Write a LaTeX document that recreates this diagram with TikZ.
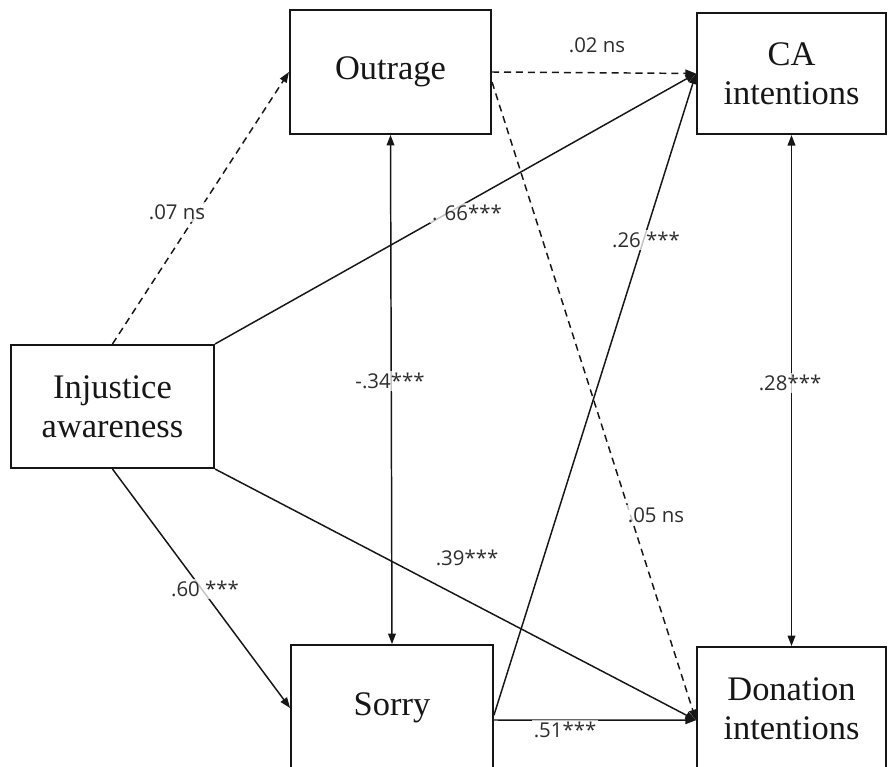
\documentclass[tikz,border=0pt]{standalone}
\usepackage{fontspec}
\setmainfont{Liberation Serif}
\newfontfamily\coeffont{Open Sans}
\usetikzlibrary{positioning,arrows.meta}
\definecolor{inkdark}{RGB}{22,22,22}
\definecolor{coefgray}{RGB}{45,45,45}

\tikzset{
  construct/.style={draw=inkdark,line width=1.3pt,fill=white,align=center,
    text=inkdark,inner sep=0pt,font=\fontsize{24.5}{28}\selectfont},
  path/.style={draw=inkdark,line width=1.05pt,-{Triangle[length=7.5pt,width=5.5pt]}},
  nspath/.style={path,dash pattern=on 5pt off 3.5pt},
  covpath/.style={draw=inkdark,line width=1.05pt,
    {Triangle[length=7.5pt,width=5.5pt]}-{Triangle[length=7.5pt,width=5.5pt]}},
  coef/.style={font=\coeffont\fontsize{14.5}{17}\selectfont,text=coefgray,
    fill=white,fill opacity=0.75,text opacity=1,inner sep=1.5pt}
}

\begin{document}
\begin{tikzpicture}[x=0.025cm,y=-0.025cm]
        \useasboundingbox (0,0) rectangle (888,767);
        \clip (0,0) rectangle (888,767);
        % constructs
        \node[construct,minimum width=5.03cm,minimum height=3.1cm]
          (outrage) at (390.5,72) {Outrage};
        \node[construct,minimum width=4.73cm,minimum height=3.03cm]
          (caint) at (791.5,73.5) {CA\\intentions};
        \node[construct,minimum width=5.08cm,minimum height=3.08cm]
          (injustice) at (112.5,406.5) {Injustice\\awareness};
        \node[construct,minimum width=5.05cm,minimum height=3.15cm]
          (sorry) at (392,708) {Sorry};
        \node[construct,minimum width=4.73cm,minimum height=3.1cm]
          (donation) at (791.5,709) {Donation\\intentions};

        % paths
        \draw[nspath] (injustice.north) -- (outrage.west);
        \draw[nspath] (outrage.east) -- (caint.west);
        \draw[path] (injustice.north east) -- (caint.west);
        \draw[path] ([yshift=-0.18cm]sorry.east) -- (caint.west);
        \draw[nspath] ([yshift=-0.25cm]outrage.east)
          -- ([yshift=-0.28cm]donation.west);
        \draw[path] (injustice.south east) -- ([yshift=-0.28cm]donation.west);
        \draw[path] ([yshift=-0.3cm]sorry.east)
          -- ([yshift=-0.28cm]donation.west);
        \draw[path] (injustice.south) -- (sorry.west);
        \draw[covpath] (outrage.south) -- (sorry.north);
        \draw[covpath] (caint.south) -- (donation.north);

        % coefficients
        \node[coef] (c07) at (177,212) {.07 ns};
        \node[coef] (c02) at (597,45) {.02 ns};
        \node[coef] (c66) at (467,213) {. 66***};
        \node[coef] (c26) at (646,240) {.26 ***};
        \node[coef] (c34) at (390,381) {-.34***};
        \node[coef] (c28) at (790,383) {.28***};
        \node[coef] (c05) at (656,515) {.05 ns};
        \node[coef] (c39) at (467,558) {.39***};
        \node[coef] (c60) at (205,589) {.60 ***};
        \node[coef] (c51) at (565,730) {.51***};
      \end{tikzpicture}
\end{document}
